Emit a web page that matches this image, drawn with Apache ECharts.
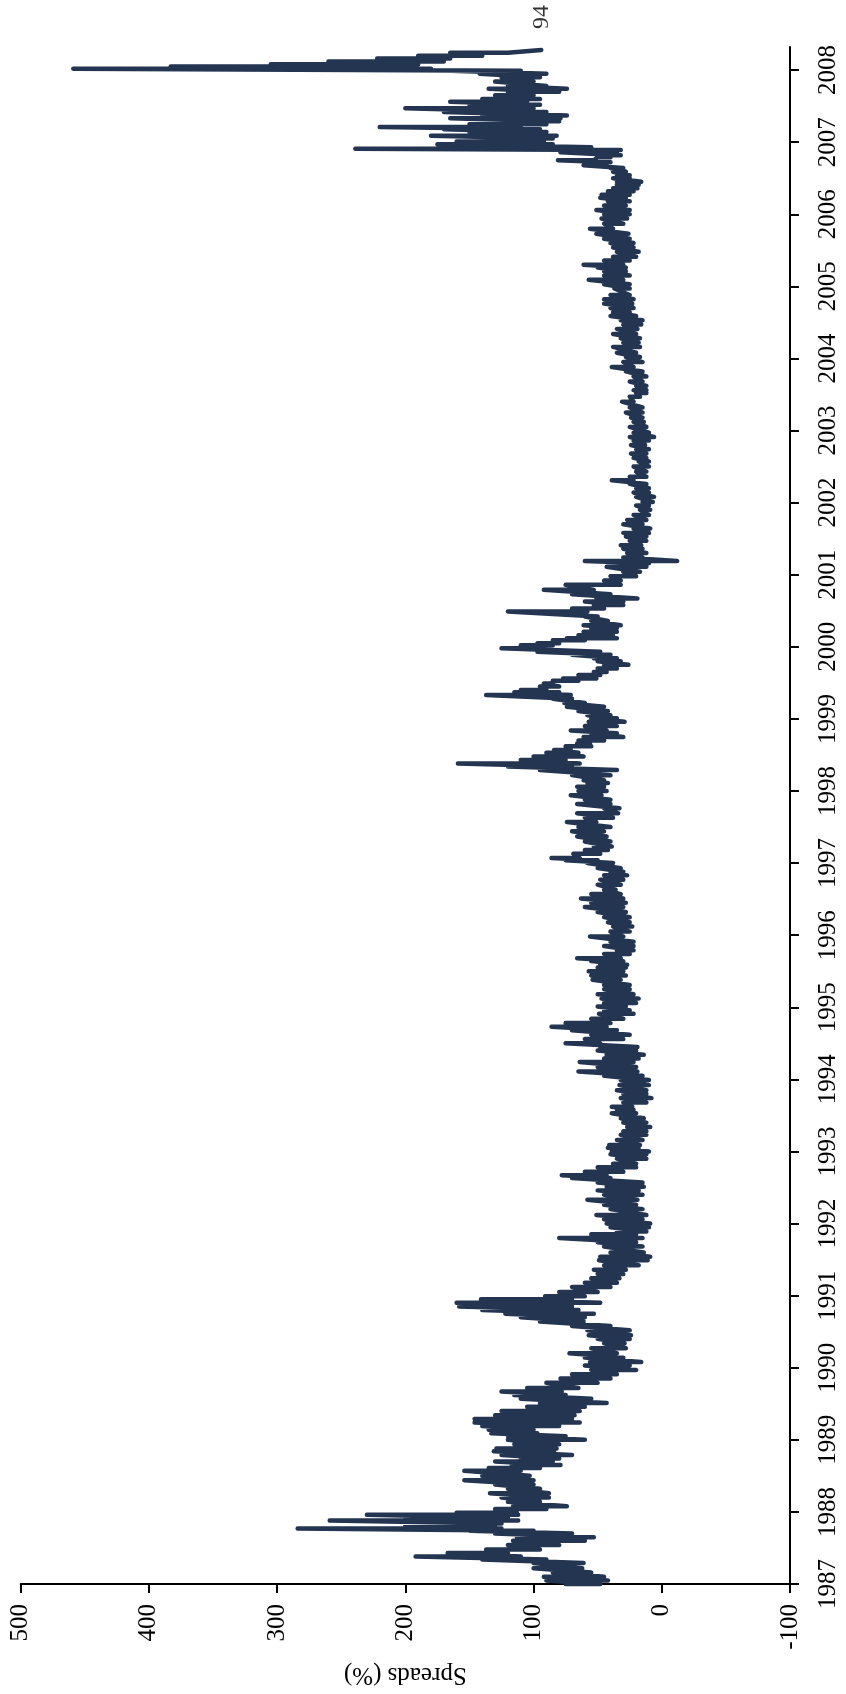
<!DOCTYPE html>
<html>
<head>
<meta charset="utf-8">
<script src="https://cdn.jsdelivr.net/npm/echarts@6/dist/echarts.min.js"></script>
<style>
html,body{margin:0;padding:0;background:#ffffff;}
#chart{width:846px;height:1694px;}
</style>
</head>
<body>
<div id="chart"></div>
<script>
// Position of each observation on the time axis (decimal years)
const periods = [
1987.00,1987.05,1987.10,1987.16,1987.22,1987.29,1987.34,1987.38,1987.43,1987.48,1987.54,1987.60,1987.65,1987.70,1987.74,1987.77,1987.81,1987.84,1987.88,1987.92,1987.96,1987.99,
1988.04,1988.08,1988.14,1988.20,1988.26,1988.32,1988.38,1988.44,1988.50,1988.57,1988.61,1988.65,1988.70,1988.74,1988.79,1988.84,1988.88,1988.94,
1989.00,1989.05,1989.09,1989.14,1989.19,1989.24,1989.29,1989.34,1989.40,1989.46,1989.51,1989.57,1989.62,1989.67,1989.72,1989.79,1989.85,1989.91,1989.97,
1990.03,1990.08,1990.14,1990.20,1990.27,1990.34,1990.40,1990.45,1990.52,1990.58,1990.64,1990.70,1990.75,1990.80,1990.85,1990.90,1990.95,1990.99,
1991.05,1991.12,1991.18,1991.24,1991.30,1991.36,1991.42,1991.49,1991.54,1991.60,1991.68,1991.74,1991.80,1991.85,1991.89,1991.95,
1992.00,1992.06,1992.12,1992.20,1992.26,1992.33,1992.40,1992.46,1992.51,1992.57,1992.63,1992.67,1992.72,1992.78,1992.83,1992.90,1992.96,
1993.00,1993.05,1993.09,1993.16,1993.23,1993.28,1993.34,1993.40,1993.46,1993.53,1993.58,1993.62,1993.68,1993.74,1993.80,1993.85,1993.92,1993.99,
1994.05,1994.11,1994.17,1994.24,1994.29,1994.34,1994.40,1994.45,1994.50,1994.56,1994.62,1994.68,1994.73,1994.78,1994.84,1994.91,1994.96,
1995.01,1995.06,1995.12,1995.18,1995.25,1995.31,1995.38,1995.44,1995.50,1995.55,1995.59,1995.64,1995.68,1995.74,1995.79,1995.85,1995.91,1995.98,
1996.05,1996.12,1996.18,1996.25,1996.32,1996.39,1996.45,1996.51,1996.57,1996.63,1996.70,1996.77,1996.83,1996.88,1996.93,
1997.00,1997.04,1997.07,1997.13,1997.18,1997.23,1997.30,1997.37,1997.44,1997.50,1997.57,1997.63,1997.69,1997.76,1997.82,1997.88,1997.94,
1998.00,1998.06,1998.11,1998.15,1998.22,1998.29,1998.34,1998.38,1998.43,1998.48,1998.53,1998.57,1998.62,1998.66,1998.70,1998.75,1998.80,1998.84,1998.90,1998.96,
1999.01,1999.05,1999.11,1999.17,1999.22,1999.28,1999.33,1999.37,1999.40,1999.45,1999.49,1999.53,1999.56,1999.61,1999.65,1999.70,1999.75,1999.80,1999.84,1999.89,1999.93,1999.98,
2000.02,2000.05,2000.09,2000.12,2000.16,2000.21,2000.26,2000.30,2000.36,2000.42,2000.49,2000.53,2000.58,2000.63,2000.67,2000.73,2000.79,2000.86,2000.92,2000.98,
2001.04,2001.11,2001.16,2001.19,2001.24,2001.30,2001.36,2001.41,2001.47,2001.53,2001.58,2001.64,2001.70,2001.76,2001.83,2001.90,2001.96,
2002.01,2002.08,2002.14,2002.20,2002.26,2002.31,2002.36,2002.43,2002.50,2002.57,2002.62,2002.68,2002.74,2002.80,2002.86,2002.91,2002.97,
2003.05,2003.12,2003.18,2003.25,2003.32,2003.40,2003.47,2003.52,2003.56,2003.62,2003.68,2003.75,2003.82,2003.88,2003.95,
2004.02,2004.08,2004.16,2004.22,2004.28,2004.34,2004.41,2004.47,2004.53,2004.59,2004.64,2004.70,2004.76,2004.82,2004.88,2004.97,
2005.03,2005.09,2005.15,2005.21,2005.26,2005.30,2005.36,2005.41,2005.48,2005.54,2005.60,2005.66,2005.73,2005.80,2005.87,2005.94,
2006.00,2006.06,2006.12,2006.18,2006.23,2006.27,2006.32,2006.36,2006.41,2006.45,2006.50,2006.54,2006.59,2006.64,2006.68,2006.72,2006.75,2006.79,2006.82,2006.86,2006.89,2006.91,2006.93,2006.97,
2007.01,2007.05,2007.09,2007.14,2007.18,2007.21,2007.25,2007.29,2007.33,2007.37,2007.42,2007.47,2007.52,2007.56,2007.60,2007.65,2007.70,2007.74,2007.78,2007.84,2007.90,2007.95,2007.99,
2008.02,2008.05,2008.08,2008.12,2008.16,2008.20,2008.24,2008.28
];
// Highest spread within each short period
const spreadHigh = [
75,90,92,85,100,100,140,192,167,137,120,116,113,130,150,284,200,188,259,200,230,160,
130,116,120,125,134,120,130,154,140,154,135,117,130,110,125,131,129,115,
120,120,133,135,140,146,146,130,125,105,95,110,115,125,105,90,79,70,55,
60,56,60,72,55,45,50,57,58,70,95,110,122,140,158,160,141,91,
80,70,60,55,50,53,45,49,48,40,45,50,80,55,35,40,
43,45,51,40,45,58,45,50,43,50,70,78,60,50,38,35,40,
39,42,41,35,32,30,27,30,32,39,35,39,30,32,30,35,33,32,
45,65,50,64,45,43,50,48,75,60,55,70,86,75,55,49,45,
50,45,47,50,45,45,54,55,57,50,48,55,66,45,35,45,40,56,
40,38,42,45,50,60,55,63,55,45,50,48,45,40,50,
58,75,86,69,60,53,60,66,70,65,74,60,66,45,66,60,71,
65,66,58,61,70,95,120,159,110,100,90,84,75,66,65,61,55,71,60,57,
55,58,65,74,76,85,137,115,110,95,92,85,77,65,53,50,45,50,53,70,97,125,
110,97,85,74,65,61,55,61,55,60,120,70,53,60,51,70,92,75,45,40,
30,43,30,60,30,27,30,32,25,28,30,22,30,27,22,17,20,
15,20,22,20,25,39,25,20,22,18,22,24,20,24,22,25,22,
25,22,24,28,25,31,25,20,22,20,25,22,28,39,30,
28,35,38,30,32,38,35,30,32,40,38,40,45,45,40,37,
45,57,45,45,50,61,45,38,35,38,40,45,51,56,45,47,
45,51,45,42,48,47,42,38,35,35,38,35,38,40,61,55,81,50,45,79,45,239,150,175,
160,130,180,150,170,220,150,130,165,140,170,200,150,165,140,130,120,135,120,130,125,142,165,
459,383,305,260,222,190,165,94
];
// Lowest spread within each short period
const spreadLow = [
48,42,45,55,62,61,90,110,120,95,80,60,53,70,100,125,130,125,112,120,112,113,
90,74,95,88,88,95,100,100,103,110,95,79,85,80,70,84,82,80,
60,75,97,100,80,64,70,68,64,60,43,55,75,78,65,50,40,35,20,
25,16,30,35,28,29,25,24,25,40,61,60,53,65,70,48,70,60,
50,40,35,33,30,28,18,11,9,14,15,20,15,20,12,10,
9,15,12,15,20,19,15,18,14,15,40,43,30,20,20,12,12,
10,18,17,15,12,12,9,12,14,20,22,23,12,8,12,12,10,10,
15,19,20,22,18,14,20,19,48,30,25,35,43,40,30,22,25,
28,20,18,22,25,25,32,28,30,28,27,30,32,25,22,22,22,30,
25,23,25,25,28,30,28,30,32,36,32,30,27,30,32,
38,50,64,48,42,39,40,43,45,40,51,38,34,33,40,40,47,
43,45,42,45,40,35,70,64,75,61,65,71,55,56,45,30,35,43,35,29,
35,40,42,45,60,70,71,80,90,80,85,65,51,48,43,35,26,32,35,40,48,97,
85,80,60,35,38,35,35,32,42,50,58,45,30,30,19,40,53,32,32,20,
17,12,10,-12,15,12,15,16,12,12,10,9,15,12,10,9,10,
7,6,10,10,12,22,12,12,10,10,12,12,10,13,10,6,10,
12,14,15,15,15,22,17,12,12,12,15,12,15,22,15,
17,20,17,18,17,20,19,16,15,20,25,22,23,22,25,25,
25,30,25,28,28,30,25,20,18,22,22,25,26,38,30,27,
25,25,28,25,28,25,22,19,18,16,25,25,28,30,43,40,53,40,32,35,32,60,55,85,
92,85,82,90,95,110,90,80,79,74,90,100,95,105,95,100,80,74,90,100,95,90,110,
180,200,190,170,165,140,120,94
];
const yearTicks = [1987,1988,1989,1990,1991,1992,1993,1994,1995,1996,1997,1998,1999,2000,2001,2002,2003,2004,2005,2006,2007,2008];
const spreadTicks = [-100,0,100,200,300,400,500];

const FONT = "'Liberation Serif','Times New Roman',serif";

// Build line data: within each period the line passes through its high, then its low
const lineData = [];
periods.forEach(function (t, i) {
  lineData.push([spreadHigh[i], t]);
  lineData.push([spreadLow[i], t]);
});
const lastPoint = lineData[lineData.length - 1];

const chart = echarts.init(document.getElementById('chart'), null, {renderer: 'canvas'});
chart.setOption({
  animation: false,
  backgroundColor: '#ffffff',
  grid: {left: 20.7, right: 56, top: 47, bottom: 110, containLabel: false},
  xAxis: {
    type: 'value',
    inverse: true,
    position: 'bottom',
    min: spreadTicks[0],
    max: spreadTicks[spreadTicks.length - 1],
    interval: 100,
    name: 'Spreads (%)',
    nameLocation: 'middle',
    nameGap: 78,
    nameRotate: 180,
    nameTextStyle: {fontFamily: FONT, fontSize: 25, color: '#000'},
    axisLine: {show: true, onZero: false, lineStyle: {color: '#000', width: 2}},
    axisTick: {show: true, inside: false, length: 9, lineStyle: {color: '#000', width: 2}},
    axisLabel: {rotate: 90, margin: 20, fontFamily: FONT, fontSize: 25, color: '#000'},
    splitLine: {show: false}
  },
  yAxis: {
    type: 'value',
    position: 'right',
    min: 1987,
    max: 2008.32,
    axisLine: {show: true, onZero: false, lineStyle: {color: '#000', width: 2}},
    axisTick: {show: true, inside: false, length: 9, customValues: yearTicks, lineStyle: {color: '#000', width: 2}},
    axisLabel: {
      rotate: 90, margin: 26, customValues: yearTicks,
      fontFamily: FONT, fontSize: 25, color: '#000',
      formatter: function (v) { return String(Math.round(v)); }
    },
    splitLine: {show: false}
  },
  series: [
    {
      type: 'line',
      data: lineData,
      symbol: 'none',
      showSymbol: false,
      clip: false,
      lineStyle: {color: '#243552', width: 4.5, cap: 'round', join: 'round'},
      z: 2
    },
    {
      type: 'scatter',
      data: [lastPoint],
      symbolSize: 0,
      silent: true,
      label: {
        show: true, position: 'top', distance: 21, rotate: 90,
        align: 'left', verticalAlign: 'middle',
        fontFamily: FONT, fontSize: 24, color: '#000',
        formatter: function (p) { return String(p.value[0]); }
      },
      z: 3
    }
  ]
});
</script>
</body>
</html>
